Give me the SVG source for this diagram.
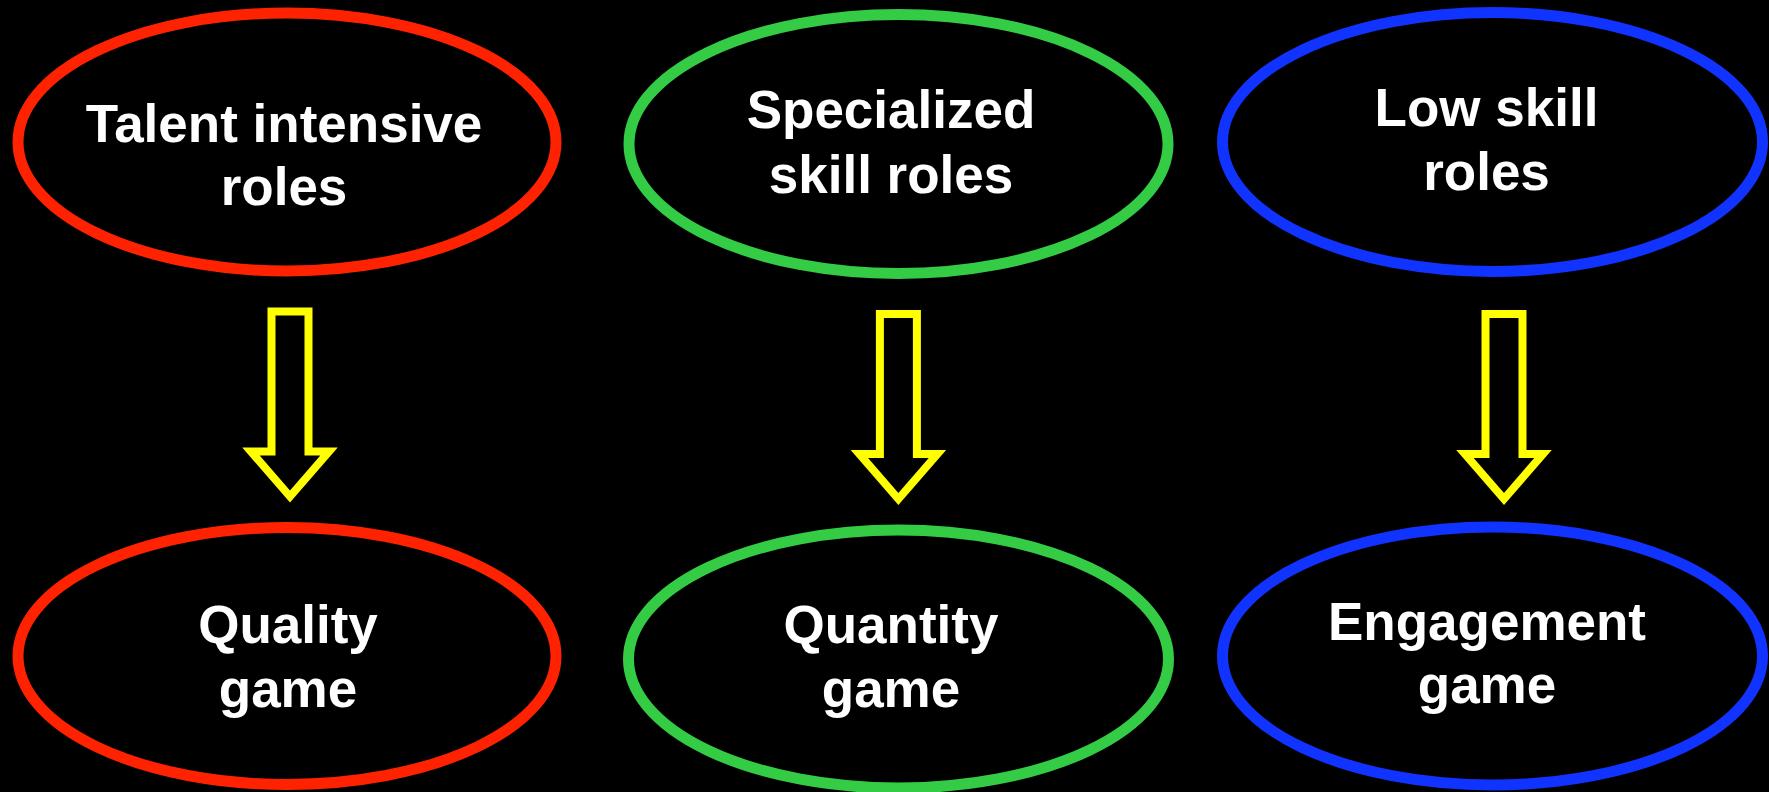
<svg xmlns="http://www.w3.org/2000/svg" width="1769" height="792" viewBox="0 0 1769 792">
  <defs>
    <style>
      .oval { fill: #000000; stroke-width: 11; }
      .red { stroke: #FF2200; }
      .green { stroke: #33CC44; }
      .blue { stroke: #1133FF; }
      .label { font-family: "Liberation Sans", Arial, sans-serif; font-weight: bold; font-size: 53px; fill: #FFFFFF; text-anchor: middle; }
      .arrow { fill: none; stroke: #FFFF00; stroke-width: 8; stroke-linejoin: miter; stroke-miterlimit: 10; }
    </style>
    <!-- hollow down arrow, drawn around x = 0 -->
    <path id="downArrow" d="M -18.5 0 L 18.5 0 L 18.5 140 L 39 140 L 0 185 L -39 140 L -18.5 140 Z"/>
  </defs>

  <rect x="0" y="0" width="1769" height="792" fill="#000000"/>

  <g id="talent-intensive-roles">
    <ellipse class="oval red" cx="287" cy="142" rx="269" ry="129"/>
    <text class="label" x="284" y="142">Talent intensive</text>
    <text class="label" x="284" y="205">roles</text>
  </g>

  <g id="specialized-skill-roles">
    <ellipse class="oval green" cx="898.5" cy="144" rx="269.5" ry="129.5"/>
    <text class="label" x="891" y="128">Specialized</text>
    <text class="label" x="891" y="193">skill roles</text>
  </g>

  <g id="low-skill-roles">
    <ellipse class="oval blue" cx="1492.5" cy="142" rx="270" ry="129.5"/>
    <text class="label" x="1486.5" y="126">Low skill</text>
    <text class="label" x="1486.5" y="190">roles</text>
  </g>

  <g id="quality-game">
    <ellipse class="oval red" cx="287" cy="656" rx="269" ry="128.5"/>
    <text class="label" x="288" y="643">Quality</text>
    <text class="label" x="288" y="707">game</text>
  </g>

  <g id="quantity-game">
    <ellipse class="oval green" cx="898.5" cy="659" rx="270" ry="129"/>
    <text class="label" x="891" y="643">Quantity</text>
    <text class="label" x="891" y="707">game</text>
  </g>

  <g id="engagement-game">
    <ellipse class="oval blue" cx="1492.5" cy="656" rx="270" ry="129"/>
    <text class="label" x="1487" y="640">Engagement</text>
    <text class="label" x="1487" y="703">game</text>
  </g>

  <g id="connectors">
    <use href="#downArrow" class="arrow" transform="translate(290 311.5)"/>
    <use href="#downArrow" class="arrow" transform="translate(898.4 314)"/>
    <use href="#downArrow" class="arrow" transform="translate(1504 314)"/>
  </g>
</svg>
